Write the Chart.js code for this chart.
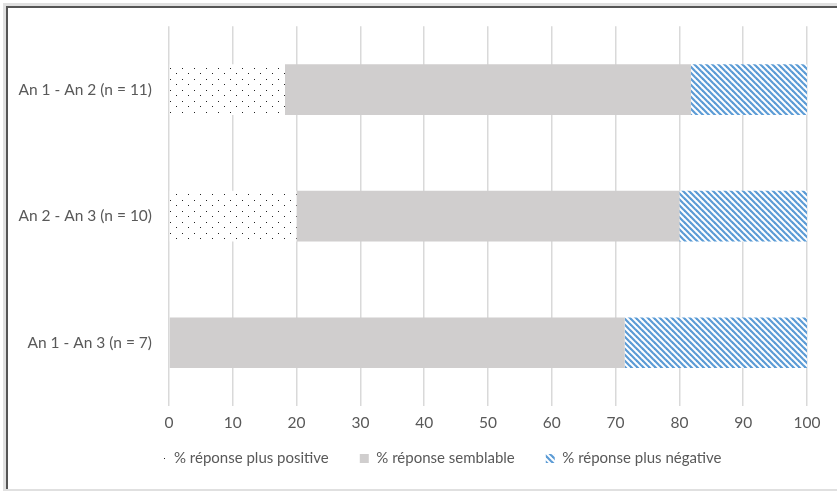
<!DOCTYPE html>
<html>
<head>
<meta charset="utf-8">
<script src="https://cdn.jsdelivr.net/npm/chart.js@4/dist/chart.umd.min.js"></script>
<style>
  html, body { margin: 0; padding: 0; background: #fff; }
  #wrap { position: relative; width: 837px; height: 492px; }
  #frame {
    position: absolute; left: 3px; top: 3px; right: -4px; bottom: 1px;
    border-left: 3px solid #e0e0e0; border-top: 3px solid #e0e0e0; border-bottom: 2px solid #e0e0e0;
    pointer-events: none;
  }
  #frame::after {
    content: ''; position: absolute; left: 0; top: 0; right: 0; bottom: 0;
    border-left: 2px solid #555; border-top: 2px solid #555;
  }
</style>
</head>
<body>
<div id="wrap">
  <canvas id="chart" width="837" height="492"></canvas>
  <div id="frame"></div>
</div>
<script>
const categories = ['An 1 - An 2 (n = 11)', 'An 2 - An 3 (n = 10)', 'An 1 - An 3 (n = 7)'];
const seriesNames = ['% réponse plus positive', '% réponse semblable', '% réponse plus négative'];
const positive = [18.18, 20, 0];
const similar = [63.64, 60, 71.43];
const negative = [18.18, 20, 28.57];
const xTicks = [0, 10, 20, 30, 40, 50, 60, 70, 80, 90, 100];

// sparse staggered dot fill
function dotPattern() {
    const c = document.createElement('canvas');
    c.width = 12; c.height = 11;
    const g = c.getContext('2d');
    g.fillStyle = '#fff';
    g.fillRect(0, 0, 12, 11);
    g.fillStyle = '#222';
    g.fillRect(2, 2, 1, 1);
    g.fillRect(8, 7, 1, 1);
    return g.createPattern(c, 'repeat');
}

// blue downward diagonal stripes
function stripePattern() {
    const c = document.createElement('canvas');
    c.width = 6; c.height = 6;
    const g = c.getContext('2d');
    g.fillStyle = '#fff';
    g.fillRect(0, 0, 6, 6);
    g.strokeStyle = '#5b9bd5';
    g.lineWidth = 2.2;
    for (let k = -6; k <= 6; k += 6) {
        g.beginPath();
        g.moveTo(k - 1, -1);
        g.lineTo(k + 7, 7);
        g.stroke();
    }
    return g.createPattern(c, 'repeat');
}

// nudge the legend row up under the tick labels and a bit to the right
const legendShift = {
    id: 'legendShift',
    afterLayout(chart) {
        const l = chart.legend;
        l.top -= 13; l.bottom -= 13;
        l.left += 36; l.right += 36;
    }
};

Chart.defaults.font.family = "Lato, 'Open Sans', sans-serif";
Chart.defaults.font.size = 15.5;
Chart.defaults.color = '#595959';

const ctx = document.getElementById('chart').getContext('2d');
new Chart(ctx, {
    type: 'bar',
    data: {
        labels: categories,
        datasets: [
            { label: seriesNames[0], data: positive, backgroundColor: dotPattern() },
            { label: seriesNames[1], data: similar, backgroundColor: '#d0cece' },
            { label: seriesNames[2], data: negative, backgroundColor: stripePattern() }
        ]
    },
    plugins: [legendShift],
    options: {
        indexAxis: 'y',
        responsive: false,
        animation: false,
        datasets: { bar: { barPercentage: 0.4, categoryPercentage: 1, borderWidth: 0 } },
        layout: { padding: { top: 24, right: 30, bottom: 3, left: 0 } },
        scales: {
            x: {
                stacked: true,
                min: 0, max: 100,
                afterBuildTicks: s => { s.ticks = xTicks.map(v => ({ value: v })); },
                grid: { color: '#d9d9d9', lineWidth: 1.5, drawTicks: false },
                border: { display: false },
                ticks: { padding: 8 },
                afterFit: s => { s.height = 27; }
            },
            y: {
                stacked: true,
                grid: { display: false, drawTicks: false },
                border: { display: false },
                ticks: { padding: 17 },
                afterFit: s => { s.width = 169; }
            }
        },
        plugins: {
            legend: {
                position: 'bottom',
                labels: { boxWidth: 9, boxHeight: 9, padding: 31, font: { size: 15 } }
            },
            tooltip: { enabled: false }
        }
    }
});
</script>
</body>
</html>
